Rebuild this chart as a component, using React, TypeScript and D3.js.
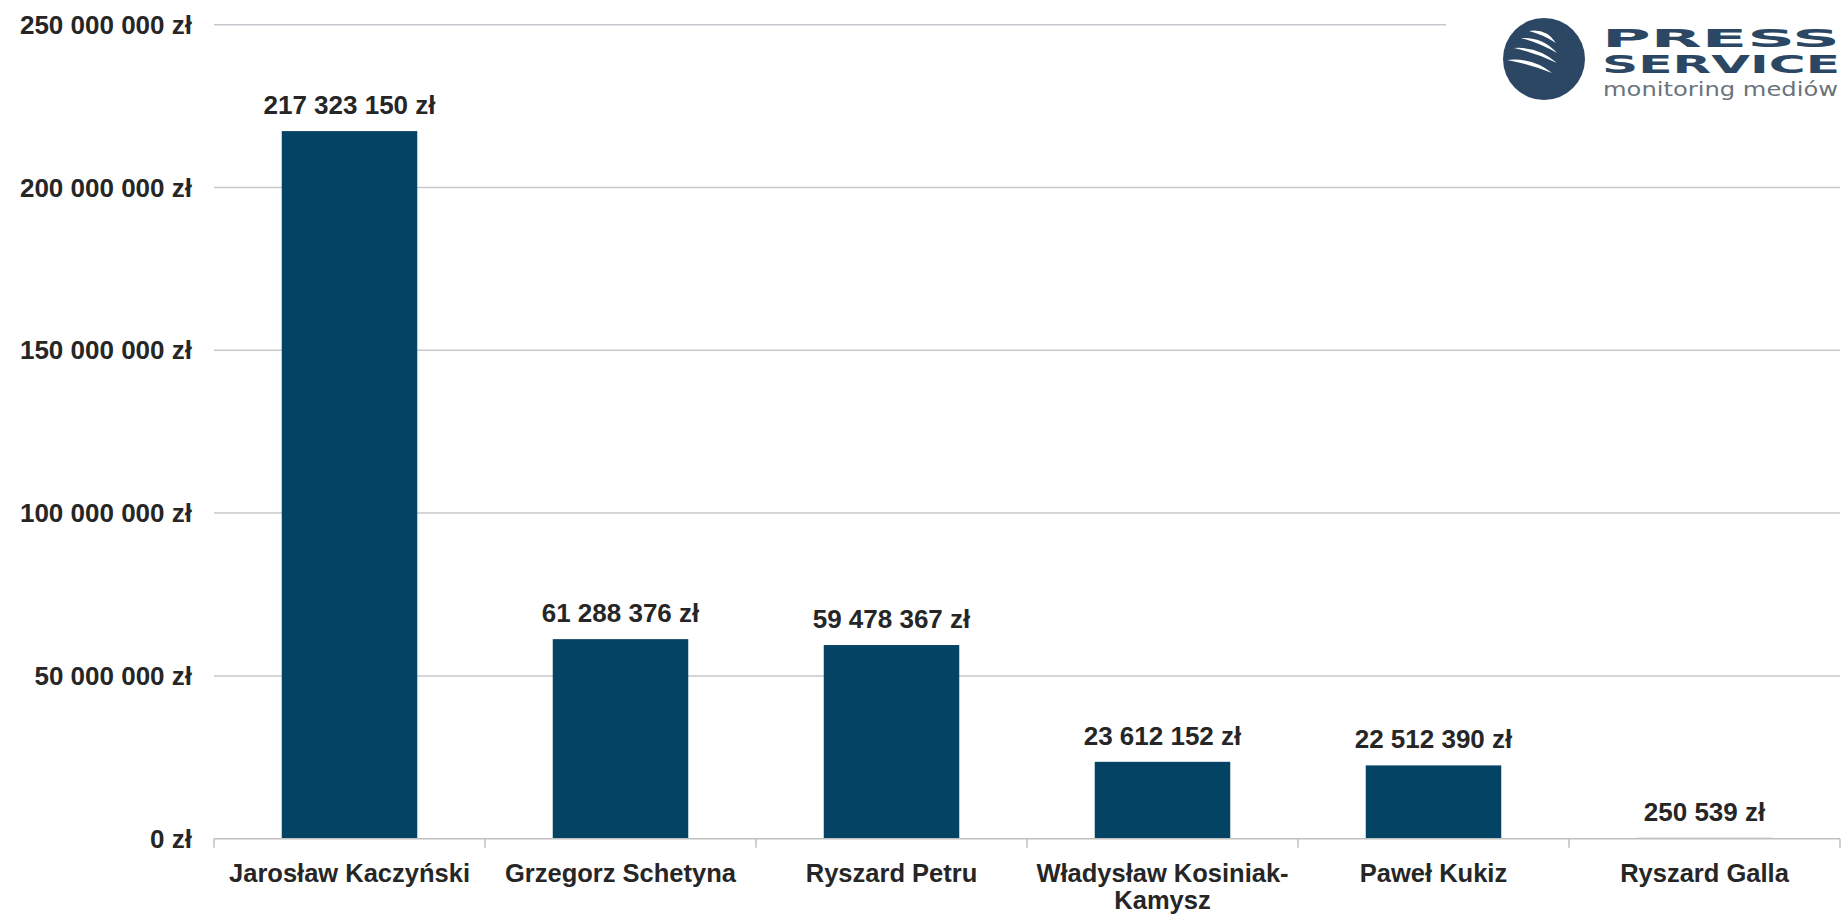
import React from "react";
import * as d3 from "d3";

const categories = [
  ["Jarosław Kaczyński"],
  ["Grzegorz Schetyna"],
  ["Ryszard Petru"],
  ["Władysław Kosiniak-", "Kamysz"],
  ["Paweł Kukiz"],
  ["Ryszard Galla"],
];
const values = [217323150, 61288376, 59478367, 23612152, 22512390, 250539];
const yTicks = [0, 50000000, 100000000, 150000000, 200000000, 250000000];

const W = 1847;
const H = 916;
const FONT = "'Liberation Sans', Arial, Helvetica, sans-serif";
const TEXT = "#262626";
const BAR = "#044364";
const GRID = "#c3c8cd";

const fmt = (v: number) =>
  d3.format(",")(v).replace(/,/g, " ") + " zł";

export default function App() {
  const keys = categories.map((c) => c.join(" "));
  const x = d3
    .scaleBand<string>()
    .domain(keys)
    .range([214, 1840])
    .paddingInner(0.5)
    .paddingOuter(0.25);
  const y = d3.scaleLinear().domain([0, 250000000]).range([838.7, 24.7]);
  const step = x.step();
  const boundaries = d3.range(keys.length + 1).map((i) => 214 + i * step);

  const stripes = [
    [-15, -28, 12, -16],
    [-23, -21, 13, -6],
    [-30, -11, 13, 4],
    [-37, 1, 8, 14],
  ];
  const cx = 1544;
  const cy = 59;

  return (
    <svg
      width={W}
      height={H}
      viewBox={`0 0 ${W} ${H}`}
      style={{ position: "absolute", left: 0, top: 0, background: "#fff" }}
    >
      <rect width={W} height={H} fill="#fff" />
      {yTicks.slice(1).map((t) => (
        <line
          key={t}
          x1={214}
          x2={t === 250000000 ? 1446 : 1840}
          y1={y(t)}
          y2={y(t)}
          stroke={GRID}
          strokeWidth={1.5}
        />
      ))}
      {yTicks.map((t) => (
        <text
          key={"l" + t}
          x={192}
          y={y(t)}
          dy="0.35em"
          textAnchor="end"
          fontFamily={FONT}
          fontWeight="bold"
          fontSize={26}
          fill={TEXT}
        >
          {fmt(t)}
        </text>
      ))}
      {values.map((v, i) => {
        const k = keys[i];
        const bx = x(k)!;
        return (
          <g key={k}>
            <rect
              x={bx}
              y={y(v)}
              width={x.bandwidth()}
              height={Math.max(y(0) - y(v), 1)}
              fill={BAR}
            />
            <text
              x={bx + x.bandwidth() / 2}
              y={y(v) - 17}
              textAnchor="middle"
              fontFamily={FONT}
              fontWeight="bold"
              fontSize={26}
              fill={TEXT}
            >
              {fmt(v)}
            </text>
            {categories[i].map((line, j) => (
              <text
                key={j}
                x={bx + x.bandwidth() / 2}
                y={882 + j * 27}
                textAnchor="middle"
                fontFamily={FONT}
                fontWeight="bold"
                fontSize={25.5}
                fill={TEXT}
              >
                {line}
              </text>
            ))}
          </g>
        );
      })}
      <line x1={214} x2={1840} y1={y(0)} y2={y(0)} stroke="#bfbfbf" strokeWidth={1.5} />
      {boundaries.map((bx, i) => (
        <line key={i} x1={bx} x2={bx} y1={y(0)} y2={y(0) + 9} stroke="#bfbfbf" strokeWidth={1.5} />
      ))}
      {/* logo */}
      <circle cx={cx} cy={cy} r={41} fill="#2c4763" />
      {stripes.map((s, i) => {
        const [x1, y1, x2, y2] = s;
        const mx = (x1 + x2) / 2;
        const my = (y1 + y2) / 2;
        const dx = x2 - x1;
        const dy = y2 - y1;
        const len = Math.hypot(dx, dy);
        const nx = dy / len;
        const ny = -dx / len;
        const b = 6;
        const t = 3.6;
        const c1x = mx + nx * (b + t);
        const c1y = my + ny * (b + t);
        const c2x = mx + nx * (b - t);
        const c2y = my + ny * (b - t);
        return (
          <path
            key={i}
            d={`M${cx + x1},${cy + y1} Q${cx + c1x},${cy + c1y} ${cx + x2},${cy + y2} Q${cx + c2x},${cy + c2y} ${cx + x1},${cy + y1}Z`}
            fill="#fff"
          />
        );
      })}
      <text
        x={1602}
        y={47}
        fontFamily="'DejaVu Sans', sans-serif"
        fontWeight="bold"
        fontSize={24}
        fill="#2c4763"
        textLength={238}
        lengthAdjust="spacingAndGlyphs"
      >
        PRESS
      </text>
      <text
        x={1602}
        y={73}
        fontFamily="'DejaVu Sans', sans-serif"
        fontWeight="bold"
        fontSize={24}
        fill="#2c4763"
        textLength={238}
        lengthAdjust="spacingAndGlyphs"
      >
        SERVICE
      </text>
      <text
        x={1603}
        y={96}
        fontFamily="'DejaVu Sans', sans-serif"
        fontSize={20}
        fill="#6b737b"
        textLength={235}
        lengthAdjust="spacingAndGlyphs"
      >
        monitoring mediów
      </text>
    </svg>
  );
}
